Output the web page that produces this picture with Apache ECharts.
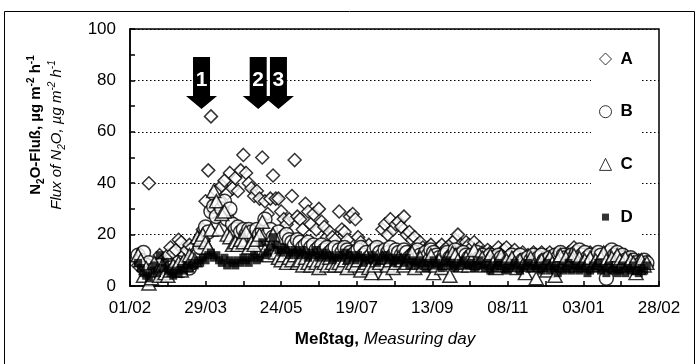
<!DOCTYPE html>
<html>
<head>
<meta charset="utf-8">
<script src="https://cdn.jsdelivr.net/npm/echarts@6/dist/echarts.min.js"></script>
<style>
  html, body { margin: 0; padding: 0; background: #fff; }
  #chart { width: 696px; height: 364px; }
</style>
</head>
<body>
<div id="chart"></div>
<script>
// measuring days, counted from 01/02
const days = [
  6, 8, 10, 12, 14, 16, 18, 20, 22, 24,
  26, 28, 30, 32, 34, 36, 38, 40, 42, 44, 46, 48, 50, 52, 54, 56,
  58, 60, 62, 64, 66, 68, 70, 72, 74, 76, 78, 80, 82, 84, 86, 88, 90, 92, 94, 96, 98, 100,
  102, 104, 106, 108, 110, 112, 114, 116, 118, 120, 122, 124, 126, 128, 130, 132, 134, 136, 138, 140, 142, 144, 146, 148, 150, 152,
  155, 157, 159, 161, 163, 165, 167, 169, 171, 173, 175, 177, 179, 181, 183, 185, 187, 189, 191, 193, 195, 197, 199,
  201, 203, 205, 207, 209, 211, 213, 215, 217, 219, 221, 223, 225, 227, 229, 231, 233, 235, 237, 239, 241, 243, 245, 247, 249,
  251, 253, 255, 257, 259, 261, 263, 265, 267, 269, 271, 273, 275, 277, 279, 281, 283, 285, 287, 289, 291, 293, 295, 297, 299,
  301, 303, 305, 307, 309, 311, 313, 315, 317, 319, 321, 323, 325, 327, 329, 331, 333, 335, 337, 339, 341, 343, 345, 347, 349,
  351, 353, 355, 357, 359, 361, 363, 365, 367, 369, 371, 373, 375, 377, 379, 381, 383
];

const fluxA = [
  8, 11, 6, 9, 40, 7, 5, 9, 12, 10,
  9, 12, 15, 13, 14, 18, 17, 12, 14, 16, 15, 13, 17, 19, 22, 33,
  45, 66, 29, 37, 30, 39, 41, 36, 44, 38, 42, 37, 45, 51, 44, 40, 38, 35, 37, 34, 50, 33,
  28, 34, 43, 34, 34, 29, 26, 24, 26, 35, 49, 27, 26, 22, 32, 29, 24, 28, 22, 30, 25, 23, 19, 21, 19, 18,
  29, 22, 21, 18, 27, 28, 26, 19, 17, 15, 14, 16, 13, 12, 15, 14, 22, 24, 20, 26, 22, 24, 25,
  23, 27, 20, 21, 18, 19, 16, 17, 15, 14, 15, 16, 13, 14, 15, 16, 14, 15, 13, 17, 18, 20, 16, 15, 17,
  16, 15, 17, 14, 15, 13, 12, 14, 13, 11, 12, 15, 13, 14, 15, 12, 13, 14, 12, 11, 13, 10, 12, 11, 13,
  12, 11, 13, 10, 12, 13, 11, 12, 10, 13, 12, 11, 13, 12, 15, 11, 13, 12, 10, 12, 13, 11, 12, 10, 11,
  9, 10, 12, 11, 13, 10, 11, 9, 12, 10, 11, 8, 9, 10, 8, 9, 8
];

const fluxB = [
  12, 10, 13, 8, 9, 6, 5, 7, 8, 5,
  6, 8, 7, 6, 7, 9, 6, 8, 9, 7, 9, 10, 12, 15, 18, 23,
  21, 29, 31, 27, 32, 30, 33, 26, 30, 24, 22, 23, 21, 22, 20, 22, 21, 19, 22, 20, 21, 26,
  20, 22, 19, 18, 21, 17, 19, 20, 18, 17, 16, 18, 17, 15, 16, 17, 15, 16, 14, 15, 16, 14, 15, 13, 14, 15,
  14, 13, 15, 14, 13, 12, 13, 14, 15, 12, 13, 11, 12, 14, 15, 13, 12, 14, 13, 15, 12, 14, 13,
  12, 14, 13, 11, 12, 13, 14, 12, 11, 13, 12, 14, 13, 12, 11, 10, 12, 13, 11, 12, 14, 12, 11, 13, 12,
  11, 12, 10, 13, 11, 12, 10, 11, 12, 11, 10, 12, 11, 10, 9, 11, 12, 10, 11, 12, 10, 9, 11, 10, 12,
  10, 11, 12, 10, 9, 11, 10, 12, 11, 13, 12, 11, 10, 12, 11, 13, 14, 12, 13, 11, 12, 10, 11, 13, 12,
  10, 3, 13, 14, 12, 13, 11, 12, 10, 9, 11, 10, 9, 8, 9, 10, 9
];

const fluxC = [
  12, 10, 4, 7, 1, 3, 9, 6, 4, 8,
  5, 4, 6, 8, 7, 9, 6, 10, 8, 12, 11, 10, 19, 18, 20, 17,
  15, 22, 37, 33, 22, 28, 29, 20, 19, 16, 17, 16, 18, 17, 21, 15, 17, 16, 18, 20, 25, 14,
  12, 15, 20, 13, 11, 10, 12, 9, 11, 10, 12, 9, 10, 8, 11, 9, 8, 10, 9, 7, 10, 9, 8, 11, 9, 8,
  9, 8, 10, 7, 11, 9, 8, 10, 6, 8, 9, 7, 5, 8, 10, 9, 11, 5, 8, 10, 7, 9, 11,
  10, 8, 9, 12, 13, 7, 9, 11, 8, 10, 9, 12, 5, 8, 10, 7, 9, 11, 4, 13, 12, 10, 8, 9, 11,
  8, 10, 14, 9, 12, 11, 8, 10, 12, 9, 7, 8, 12, 9, 10, 8, 11, 9, 7, 10, 8, 5, 9, 11, 8,
  3, 9, 10, 8, 6, 11, 9, 4, 10, 12, 8, 11, 9, 10, 12, 8, 11, 9, 10, 9, 11, 8, 10, 9, 11,
  13, 10, 9, 11, 8, 12, 10, 9, 11, 8, 10, 9, 5, 7, 10, 8, 9
];

const fluxD = [
  9, 7, 5, 4, 3, 6, 8, 5, 12, 7,
  9, 6, 5, 4, 6, 5, 7, 6, 8, 7, 9, 8, 10, 9, 11, 10,
  12, 13, 11, 12, 10, 9, 11, 8, 10, 9, 8, 10, 9, 11, 10, 9, 11, 12, 10, 11, 17, 12,
  13, 15, 19, 16, 14, 13, 15, 14, 12, 13, 14, 12, 13, 14, 12, 11, 13, 12, 14, 11, 12, 13, 11, 12, 10, 11,
  12, 11, 13, 10, 12, 11, 10, 12, 11, 9, 11, 10, 12, 11, 9, 10, 11, 12, 10, 11, 9, 10, 11,
  10, 9, 11, 8, 10, 9, 8, 10, 9, 7, 9, 8, 10, 9, 8, 7, 9, 10, 8, 9, 7, 8, 9, 10, 8,
  8, 9, 7, 8, 10, 8, 7, 9, 6, 8, 7, 9, 8, 7, 6, 8, 7, 9, 8, 6, 7, 8, 9, 7, 8,
  7, 8, 6, 7, 9, 6, 8, 7, 5, 8, 6, 7, 9, 6, 8, 7, 6, 8, 7, 5, 6, 8, 7, 9, 6,
  7, 5, 8, 6, 7, 5, 6, 8, 5, 7, 6, 8, 6, 5, 7, 6, 8
];

const dateLabels = ["01/02", "29/03", "24/05", "19/07", "13/09", "08/11", "03/01", "28/02"];

// arrows 1-3 (day, height)
const arrowDays = [53, 95, 110];
const arrowNames = ["1", "2", "3"];
const arrowLevel = 79;

const FONT = "Liberation Sans";

const pairs = (vals) => days.map((d, i) => [d, vals[i]]);

const chart = echarts.init(document.getElementById("chart"), null, { renderer: "canvas" });

const supStyle = (extra) => Object.assign({ fontFamily: FONT, fontSize: 10, lineHeight: 9, verticalAlign: "top", color: "#000" }, extra);
const subStyle = (extra) => Object.assign({ fontFamily: FONT, fontSize: 10, lineHeight: 9, verticalAlign: "bottom", color: "#000" }, extra);
const mainStyle = (extra) => Object.assign({ fontFamily: FONT, fontSize: 15, lineHeight: 20, color: "#000" }, extra);

const openSymbol = { color: "#fff", borderColor: "#000", borderWidth: 1.5 };

const option = {
  animation: false,
  backgroundColor: "#fff",
  textStyle: { fontFamily: FONT, color: "#000" },
  grid: {
    left: 130, right: 37, top: 29, bottom: 78,
    show: true, borderColor: "#000", borderWidth: 1.5
  },
  xAxis: {
    type: "value",
    min: 0, max: 392, interval: 56,
    axisLine: { show: true, lineStyle: { color: "#000", width: 1.5 } },
    axisTick: { show: true, inside: true, length: 5, lineStyle: { color: "#000", width: 1.5 } },
    minorTick: { show: true, splitNumber: 2, length: 5, lineStyle: { color: "#000", width: 1.5 } },
    axisLabel: {
      color: "#000", fontSize: 17, margin: 14, fontFamily: FONT,
      formatter: (v) => dateLabels[Math.round(v / 56)] || ""
    },
    splitLine: { show: false }
  },
  yAxis: {
    type: "value",
    min: 0, max: 100, interval: 20,
    axisLine: { show: true, lineStyle: { color: "#000", width: 1.5 } },
    axisTick: { show: true, inside: true, length: 5, lineStyle: { color: "#000", width: 1.5 } },
    minorTick: { show: true, splitNumber: 2, length: 5, lineStyle: { color: "#000", width: 1.5 } },
    axisLabel: { color: "#000", fontSize: 17, margin: 14, fontFamily: FONT },
    splitLine: { show: true, lineStyle: { color: "#000", type: [1.5, 2.5], width: 1.2 } }
  },
  legend: {
    orient: "vertical",
    left: 591, top: 42,
    padding: [8, 8, 12, 8],
    backgroundColor: "#fff",
    itemWidth: 12, itemHeight: 12, itemGap: 34.7,
    selectedMode: false,
    itemStyle: { borderWidth: 1 },
    textStyle: { fontFamily: FONT, fontSize: 17, fontWeight: "bold", color: "#000", lineHeight: 18, padding: [0, 0, 0, 4] },
    data: [
      { name: "A", icon: "diamond" },
      { name: "B", icon: "circle" },
      { name: "C", icon: "triangle" },
      { name: "D", icon: "path://M0,0M12,12M2.5,2.5L9.5,2.5L9.5,9.5L2.5,9.5Z" }
    ]
  },
  series: [
    {
      name: "A", type: "scatter", symbol: "diamond", symbolSize: 13,
      itemStyle: openSymbol, data: pairs(fluxA),
      markPoint: {
        symbol: "path://M7,0L24,0L24,39L31,39L15.5,52L0,39L7,39Z",
        symbolSize: [31, 52],
        itemStyle: { color: "#000", borderWidth: 0 },
        label: {
          show: true, position: "inside", offset: [0, -3], formatter: "{b}",
          color: "#fff", fontSize: 21, fontWeight: "bold", fontFamily: FONT
        },
        data: arrowDays.map((d, i) => ({ name: arrowNames[i], coord: [d, arrowLevel] }))
      }
    },
    { name: "B", type: "scatter", symbol: "circle", symbolSize: 14, itemStyle: openSymbol, data: pairs(fluxB) },
    { name: "C", type: "scatter", symbol: "triangle", symbolSize: [14, 13], itemStyle: openSymbol, data: pairs(fluxC) },
    { name: "D", type: "scatter", symbol: "rect", symbolSize: 8, itemStyle: { color: "#000" }, data: pairs(fluxD) }
  ],
  graphic: [
    {
      type: "rect", silent: true, z: -1,
      shape: { x: 4.5, y: 11.5, width: 690, height: 360 },
      style: { fill: "none", stroke: "#000", lineWidth: 1 }
    },
    {
      type: "text", x: 36, y: 125, rotation: Math.PI / 2,
      style: {
        text: "{b|N}{bs|2}{b|O-Fluß, µg m}{bp|-2}{b| h}{bp|-1}",
        align: "center", verticalAlign: "middle",
        rich: {
          b: mainStyle({ fontWeight: "bold" }),
          bs: subStyle({ fontWeight: "bold" }),
          bp: supStyle({ fontWeight: "bold" })
        }
      }
    },
    {
      type: "text", x: 57, y: 135, rotation: Math.PI / 2,
      style: {
        text: "{i|Flux of N}{is|2}{i|O, µg m}{ip|-2}{i| h}{ip|-1}",
        align: "center", verticalAlign: "middle",
        rich: {
          i: mainStyle({ fontStyle: "italic" }),
          is: subStyle({ fontStyle: "italic" }),
          ip: supStyle({ fontStyle: "italic" })
        }
      }
    },
    {
      type: "text", x: 385, y: 339,
      style: {
        text: "{b|Meßtag, }{i|Measuring day}",
        align: "center", verticalAlign: "middle",
        rich: {
          b: { fontFamily: FONT, fontSize: 17, fontWeight: "bold", color: "#000" },
          i: { fontFamily: FONT, fontSize: 17, fontStyle: "italic", color: "#000" }
        }
      }
    }
  ]
};

chart.setOption(option);
</script>
</body>
</html>
